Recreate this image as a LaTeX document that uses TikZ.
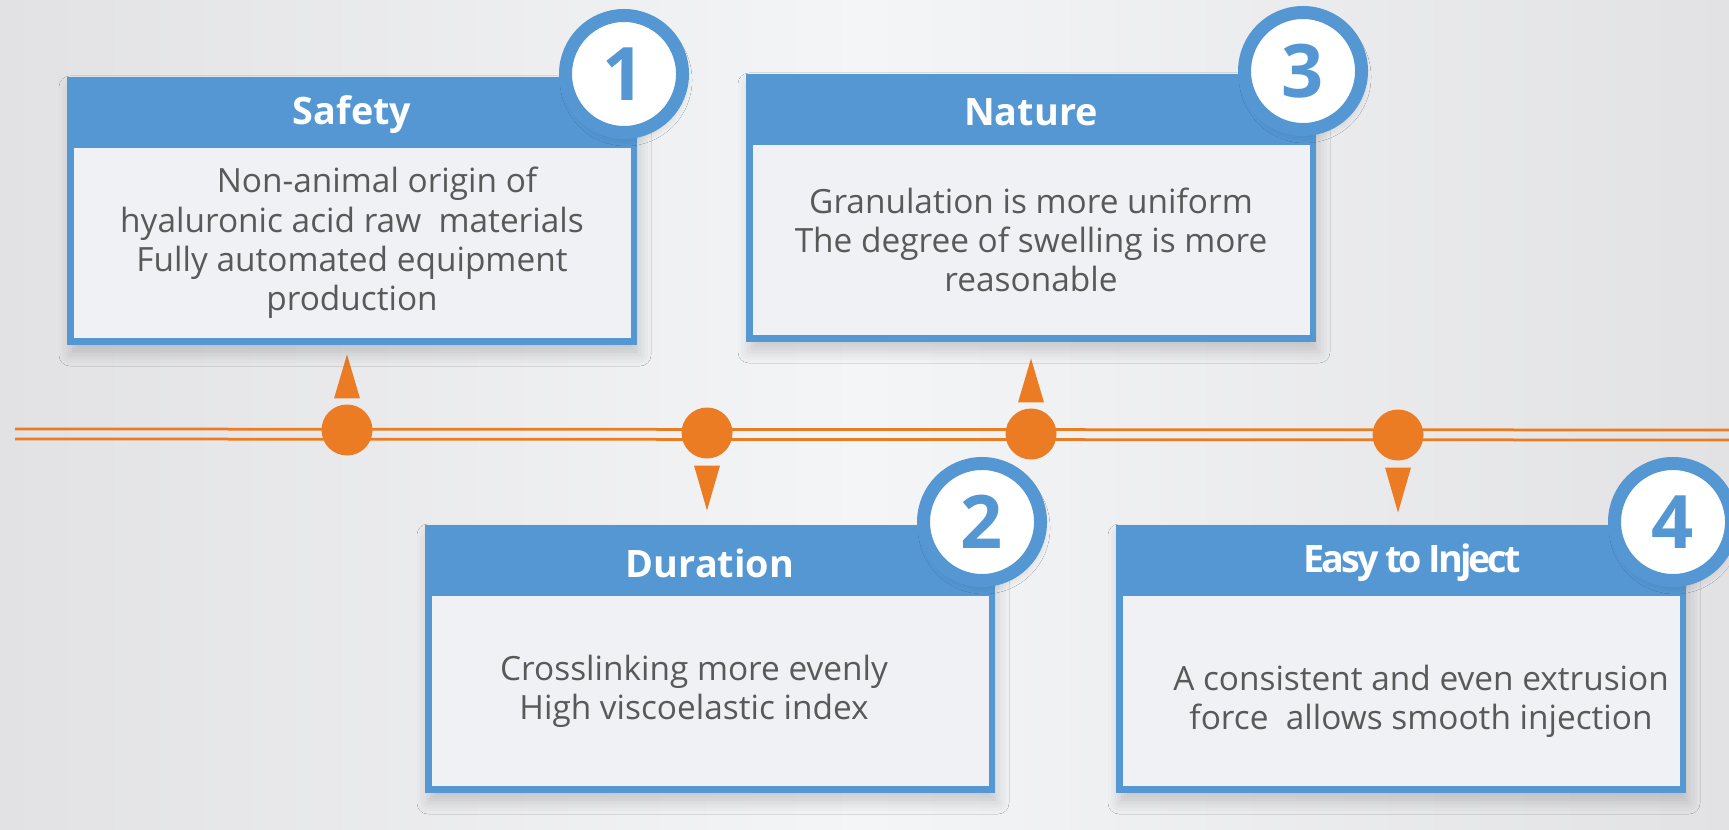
\documentclass[tikz,border=0pt]{standalone}
\usepackage{fontspec}
\setmainfont{Open Sans}
\usetikzlibrary{
  positioning,
  calc,
  shadows.blur
}

\begin{document}
\begin{tikzpicture}[
  x=0.2mm, y=-0.2mm,
  every node/.style={inner sep=0pt, outer sep=0pt},
  card/.style={rectangle, fill=cblue, minimum width=114mm, minimum height=53.6mm,
    blur shadow={shadow xshift=0.6mm, shadow yshift=-2mm, shadow blur radius=2.2mm, shadow opacity=16}},
  panel/.style={rectangle, fill=cpanel, minimum width=111.4mm, minimum height=38mm},
  ttl/.style={text=white, font=\fontsize{21.5}{26}\selectfont\bfseries},
  txt/.style={text=cgray, align=center, font=\fontsize{19}{22.4}\selectfont},
  badge/.style={circle, fill=white, draw=cblue, line width=2.6mm, minimum size=23.4mm,
    text=cblue, font=\fontsize{42}{42}\selectfont\bfseries,
    blur shadow={shadow xshift=0.4mm, shadow yshift=-1.2mm, shadow blur radius=1.5mm, shadow opacity=14}},
  dot/.style={circle, fill=corange, minimum size=10.2mm},
  rail/.style={draw=corange, line width=0.55mm},
  ptr/.style={fill=corange}
]
  % colours
  \definecolor{cblue}{RGB}{84,151,211}
  \definecolor{corange}{RGB}{235,124,35}
  \definecolor{cgray}{RGB}{89,89,89}
  \definecolor{cpanel}{RGB}{239,241,244}
  \definecolor{bgside}{RGB}{226,226,229}
  \definecolor{bgmid}{RGB}{244,245,247}

  % background
  \shade[left color=bgside, right color=bgside, middle color=bgmid] (0,0) rectangle (1729,830);
  \useasboundingbox (0,0) rectangle (1729,830);

  % timeline rails
  \coordinate (railL) at (15,0);
  \coordinate (railR) at (1729,0);
  \draw[rail] ($(railL)+(0,429)$) -- ($(railR)+(0,430)$);
  \draw[rail] ($(railL)+(0,439)$) -- ($(railR)+(0,440)$);

  % dots on the timeline
  \foreach \i/\x/\y in {1/347/430, 2/707/433, 3/1031/434, 4/1398/435}
    \node[dot] (d\i) at (\x,\y) {};

  % pointers (up to the top cards, down to the bottom cards)
  \foreach \i in {1,3}
    \fill[ptr] ($(d\i.north)+(-13,-6)$) -- ++(26,0) -- ++(-13,-44) -- cycle;
  \foreach \i in {2,4}
    \fill[ptr] ($(d\i.south)+(-13,7)$) -- ++(26,0) -- ++(-13,45) -- cycle;

  % cards
  \foreach \n/\x/\y/\title/\tx/\dx/\dy/\body in {
    1/67/77/Safety/0/0/0/{\hspace*{1.5em}Non-animal origin of\\hyaluronic acid raw\ \ materials\\Fully automated equipment\\production},
    3/746/74/Nature/0/0/0/{Granulation is more uniform\\The degree of swelling is more\\reasonable},
    2/425/525/Duration/0/-16/0/{Crosslinking more evenly\\High viscoelastic index},
    4/1116/525/{\addfontfeature{LetterSpace=-8}Easy to Inject}/11/20/10/{A consistent and even extrusion\\force\ \ allows smooth injection}}{
    \node[card, anchor=north west] (card\n) at (\x,\y) {};
    \node[panel, anchor=south] (panel\n) at ($(card\n.south)+(0,-7)$) {};
    \node[ttl] (t\n) at ($(card\n.north)+(\tx,38)$) {\title};
    \node[txt] (b\n) at ($(panel\n.center)+(\dx,\dy)$) {\body};
    \node[badge] (n\n) at ($(card\n.north east)+(-13,-3)$) {\n};
  }

\end{tikzpicture}
\end{document}
